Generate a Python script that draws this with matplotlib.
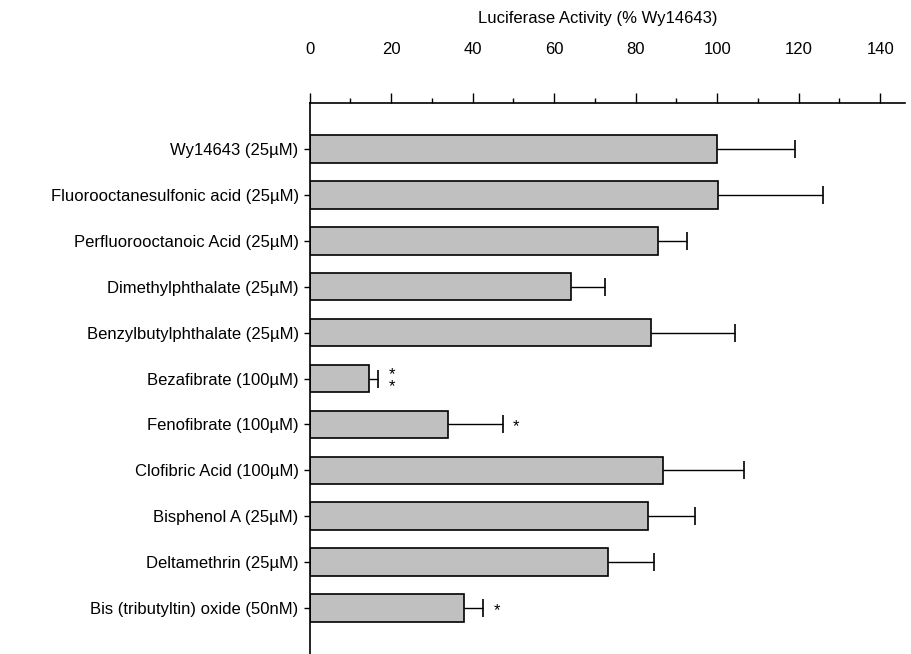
import numpy as np
import matplotlib
matplotlib.use("Agg")
import matplotlib.pyplot as plt

plt.rcParams['font.family'] = ['Liberation Sans Narrow', 'Liberation Sans', 'DejaVu Sans']

# data
labels = ["Wy14643 (25µM)",
          "Fluorooctanesulfonic acid (25µM)",
          "Perfluorooctanoic Acid (25µM)",
          "Dimethylphthalate (25µM)",
          "Benzylbutylphthalate (25µM)",
          "Bezafibrate (100µM)",
          "Fenofibrate (100µM)",
          "Clofibric Acid (100µM)",
          "Bisphenol A (25µM)",
          "Deltamethrin (25µM)",
          "Bis (tributyltin) oxide (50nM)"]
values = [100, 100.3, 85.4, 64.1, 83.7, 14.6, 34.0, 86.8, 83.0, 73.2, 37.9]
errors = [19.0, 25.6, 7.3, 8.4, 20.7, 2.2, 13.4, 19.7, 11.6, 11.3, 4.7]
stars = ["", "", "", "", "", "*\n*", "*", "", "", "", "*"]

fig = plt.figure(figsize=(9.11, 6.54), dpi=100)
ax = fig.add_axes([0.340, 0.0, 0.653, 0.8425])

y = np.arange(len(labels))
vals = np.array(values)
errs = np.array(errors)
ax.barh(y, vals, height=0.6, color="#c0c0c0", edgecolor="black", linewidth=1.2)

# one-sided error bars, cap only at the outer end
ax.hlines(y, vals, vals + errs, color="black", linewidth=1)
ax.plot(vals + errs, y, linestyle="none", marker="|", markersize=13,
        markeredgewidth=1.2, color="black")

for i in range(len(labels)):
    if stars[i]:
        ax.text(values[i] + errors[i] + 2.5, y[i] + 0.05, stars[i], ha="left", va="center",
                fontsize=12, linespacing=0.75)

ax.set_xlim(0, 146)
ax.set_ylim(11, -1)
ax.set_yticks(y)
ax.set_yticklabels(labels, fontsize=12)
ax.set_xticks(np.arange(0, 141, 20))
ax.set_xticks(np.arange(10, 141, 20), minor=True)

ax.xaxis.tick_top()
ax.tick_params(axis="x", which="major", direction="out", length=7, width=1,
               pad=26, labelsize=12)
ax.tick_params(axis="x", which="minor", direction="out", length=3.5, width=1)
ax.tick_params(axis="y", direction="out", length=4, width=1, pad=4)

ax.spines["right"].set_visible(False)
ax.spines["bottom"].set_visible(False)
ax.spines["top"].set_linewidth(1.2)
ax.spines["left"].set_linewidth(1.2)

fig.text(0.656, 0.972, "Luciferase Activity (% Wy14643)", ha="center", va="center",
         fontsize=12)

fig.savefig("out.png", dpi=100)
